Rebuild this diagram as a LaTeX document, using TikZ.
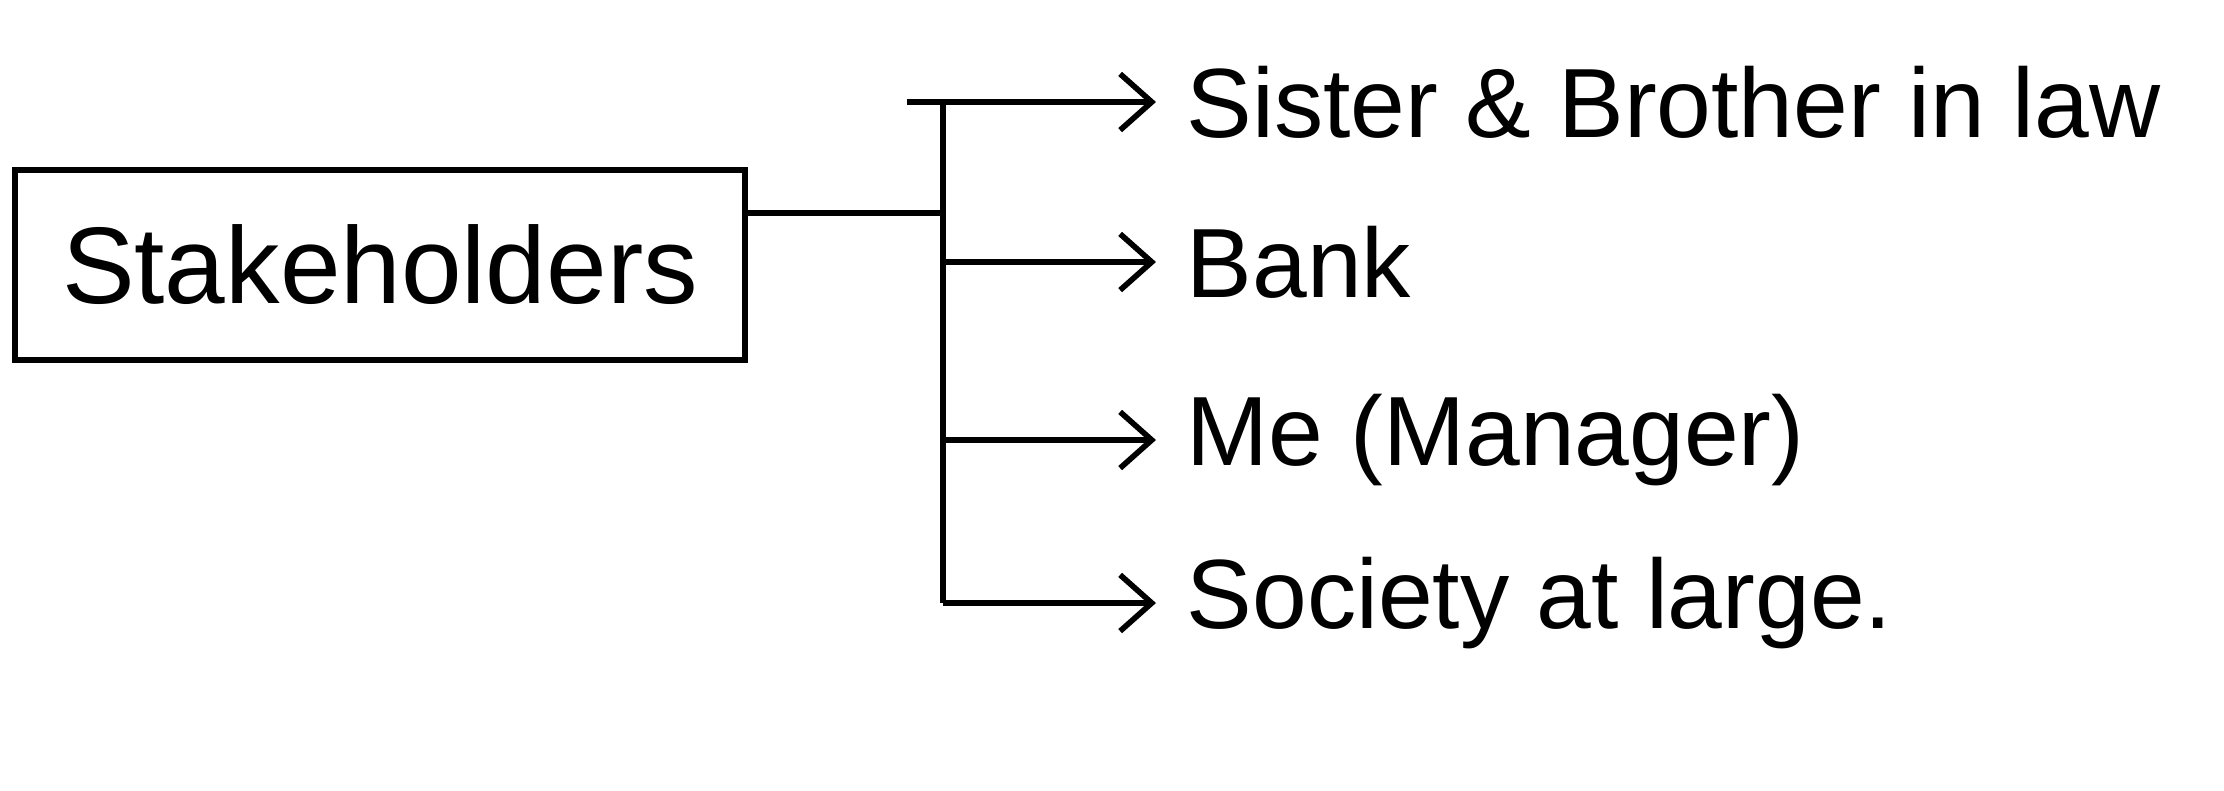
\documentclass[tikz,border=0pt]{standalone}
\usepackage{fontspec}
\setmainfont{Liberation Sans}
\usetikzlibrary{arrows.meta, positioning}

\begin{document}
\begin{tikzpicture}[
  font=\fontsize{28}{32}\selectfont,
  box/.style={draw, line width=1.6pt, minimum width=7.3cm, minimum height=1.9cm, inner sep=0pt, font=\fontsize{31}{36}\selectfont},
  link/.style={line width=1.6pt},
  arrow/.style={-{Straight Barb[length=9pt, width=16pt]}, line width=1.6pt},
  item/.style={anchor=west, inner sep=0pt},
  node distance=0.3cm
]
\useasboundingbox (0,0) rectangle (22.24,-7.9);
\node[box] (S) at (3.8,-2.65) {Stakeholders};
\coordinate (J) at (9.43,-2.13);
\coordinate (T) at (9.43,-1.02);
\coordinate (T0) at (9.07,-1.02);
\coordinate (B) at (9.43,-6.03);
\coordinate (E1) at (11.56,-1.02);
\coordinate (E2) at (11.56,-2.62);
\coordinate (E3) at (11.56,-4.40);
\coordinate (E4) at (11.56,-6.03);
\node[item, right=of E1] (L1) {Sister \& Brother in law};
\node[item, right=of E2] (L2) {Bank};
\node[item, right=of E3] (L3) {Me (Manager)};
\node[item, right=of E4] (L4) {Society at large.};
\draw[link] (S.east |- J) -- (J);
\draw[link] (T) -- (B);
\draw[arrow] (T0) -- (E1);
\draw[arrow] (T |- E2) -- (E2);
\draw[arrow] (T |- E3) -- (E3);
\draw[arrow] (B) -- (E4);
\end{tikzpicture}
\end{document}
